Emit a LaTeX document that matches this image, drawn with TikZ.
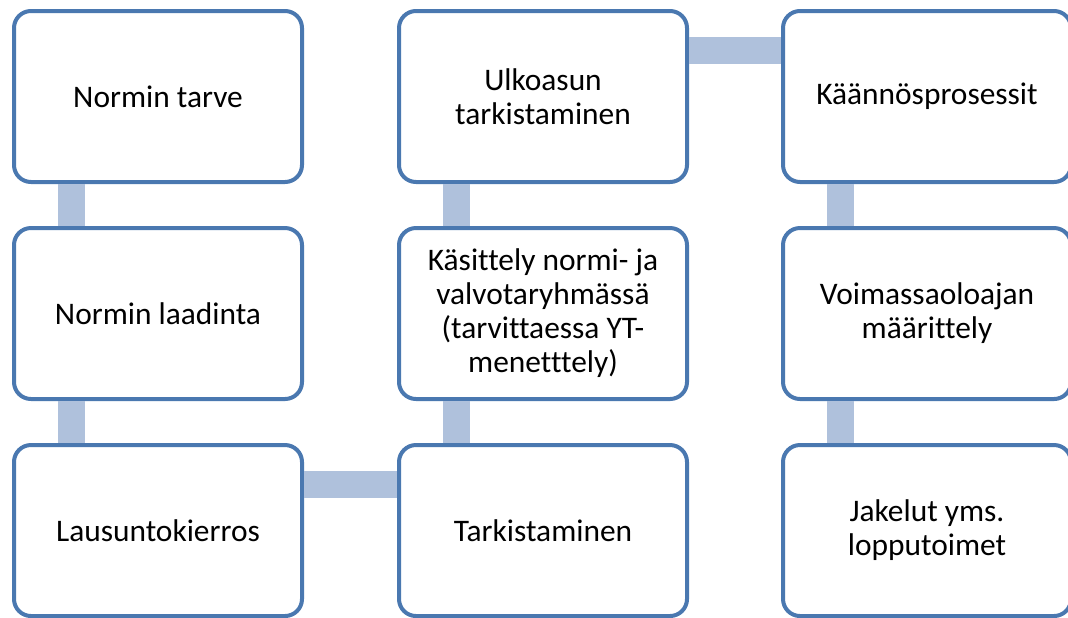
\documentclass[tikz,border=0pt]{standalone}
\usepackage{fontspec}
\setmainfont[Ligatures={NoCommon}]{Carlito}
\definecolor{boxline}{RGB}{74,120,176}
\definecolor{linkfill}{RGB}{175,193,220}

\begin{document}
\begin{tikzpicture}[x=0.5pt, y=-0.5pt,
        stage/.style={draw=boxline, line width=2pt, fill=white,
            rounded corners=8.5pt, align=center,
            minimum width=144pt, minimum height=85.5pt,
            font=\fontsize{15.7}{17}\selectfont},
        link/.style={draw=linkfill, line width=13.5pt}]
        \clip (0,0) rectangle (1068,617);
        % first column
        \draw (158,96.5) node(tarve) [stage] {Normin tarve};
        \draw (158,313.5) node(laadinta) [stage] {Normin laadinta};
        \draw (158,530.5) node(kierros) [stage] {Lausuntokierros};
        % second column
        \draw (543,530.5) node(tark) [stage] {Tarkistaminen};
        \draw (543,313.5) node(kasittely) [stage] {Käsittely normi- ja\\valvotaryhmässä\\(tarvittaessa YT-\\menetttely)};
        \draw (543,96.5) node(ulkoasu) [stage] {Ulkoasun\\tarkistaminen};
        % third column
        \draw (927,96.5) node(kaannos) [stage] {Käännösprosessit};
        \draw (927,313.5) node(voimassa) [stage] {Voimassaoloajan\\määrittely};
        \draw (927,530.5) node(jakelu) [stage] {Jakelut yms.\\lopputoimet};
        % links
        \draw[link] ([xshift=29.5pt]tarve.south west) -- ([xshift=29.5pt]laadinta.north west);
        \draw[link] ([xshift=29.5pt]laadinta.south west) -- ([xshift=29.5pt]kierros.north west);
        \draw[link] ([yshift=-20.75pt]kierros.north east) -- ([yshift=-20.75pt]tark.north west);
        \draw[link] ([xshift=29.5pt]tark.north west) -- ([xshift=29.5pt]kasittely.south west);
        \draw[link] ([xshift=29.5pt]kasittely.north west) -- ([xshift=29.5pt]ulkoasu.south west);
        \draw[link] ([yshift=-20.75pt]ulkoasu.north east) -- ([yshift=-20.75pt]kaannos.north west);
        \draw[link] ([xshift=29.5pt]kaannos.south west) -- ([xshift=29.5pt]voimassa.north west);
        \draw[link] ([xshift=29.5pt]voimassa.south west) -- ([xshift=29.5pt]jakelu.north west);
    \end{tikzpicture}
\end{document}
